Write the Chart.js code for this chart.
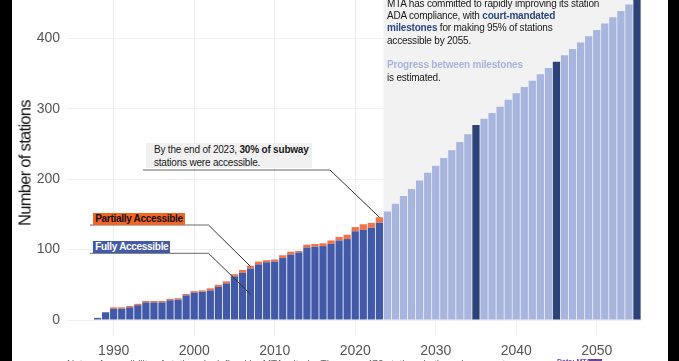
<!DOCTYPE html>
<html><head><meta charset="utf-8">
<script src="https://cdn.jsdelivr.net/npm/chart.js@4.4.1/dist/chart.umd.min.js"></script>
<style>
html,body{margin:0;padding:0;background:#000;}
#frame{position:relative;width:679px;height:361px;overflow:hidden;background:#000;font-family:'Liberation Sans',Arial,sans-serif;}
#panel{position:absolute;left:12px;top:0;width:656px;height:361px;background:#fff;}
#wrap{position:absolute;left:0;top:-40px;width:679px;height:401px;}
.ann{position:absolute;font-size:10px;line-height:12.3px;color:#1a1a1a;letter-spacing:-0.2px;white-space:nowrap;}
.court{color:#2d4789;font-weight:bold;}
.prog{color:#a7b5df;font-weight:bold;}
#note2023{left:145.7px;top:143.3px;width:166px;height:25px;background:#f1f1f1;padding:1px 0 0 8.3px;box-sizing:border-box;}
.lab{position:absolute;font-size:10px;font-weight:bold;letter-spacing:-0.3px;line-height:12.6px;padding-left:2.5px;box-sizing:border-box;white-space:nowrap;}
#labPartial{left:92.7px;top:212.5px;width:92px;height:12.6px;background:#f26522;color:#111;}
#labFull{left:92.7px;top:241px;width:77px;height:12.4px;background:#4559a9;color:#fff;}
#ytitle{position:absolute;left:25px;top:162.5px;transform:translate(-50%,-50%) rotate(-90deg);font-size:16.5px;letter-spacing:-0.7px;color:#111;white-space:nowrap;}
#notes{position:absolute;left:67px;top:359px;font-size:10px;color:#666;white-space:nowrap;}
#logo{position:absolute;left:557px;top:358px;font-size:7px;font-weight:bold;color:#6b3fa0;white-space:nowrap;}
#logoBox{position:absolute;left:589px;top:358.5px;width:13px;height:5px;background:#6b3fa0;}
</style></head>
<body>
<div id="frame">
  <div id="panel"></div>
  <div id="wrap"><canvas id="c" width="679" height="401"></canvas></div>
  <div id="ytitle">Number of stations</div>
  <div class="ann" id="rightNote" style="left:387px;top:-2.2px;">MTA has committed to rapidly improving its station<br>ADA compliance, with <span class="court">court-mandated</span><br><span class="court">milestones</span> for making 95% of stations<br>accessible by 2055.<br><br><span class="prog">Progress between milestones</span><br>is estimated.</div>
  <div class="ann" id="note2023">By the end of 2023, <b>30% of subway</b><br>stations were accessible.</div>
  <div class="lab" id="labPartial">Partially Accessible</div>
  <div class="lab" id="labFull">Fully Accessible</div>
  <div id="notes">Notes: Accessibility of stations is defined by MTA criteria. There are 472 stations in the subway system.</div>
  <div id="logo">Data: MTA</div>
  <div id="logoBox"></div>
</div>
<script>
// ---- data ----
const historyYears = [1988,1989,1990,1991,1992,1993,1994,1995,1996,1997,1998,1999,2000,2001,2002,2003,2004,2005,2006,2007,2008,2009,2010,2011,2012,2013,2014,2015,2016,2017,2018,2019,2020,2021,2022,2023];
const fullyAccessible = [3,11,16,16,18,21,25,25,25,28,29,35,39,40,42,47,52,62,67,73,79,82,83,88,93,96,103,104,105,108,113,115,126,128,131,138];
const partiallyAccessible = [0,0,2,2,2,2,2,2,2,2,2,2,2,2,3,3,3,3,4,4,4,3,3,4,4,2,4,4,4,5,5,6,6,8,7,8];
const projectedYears = [2024,2025,2026,2027,2028,2029,2030,2031,2032,2033,2034,2035,2036,2037,2038,2039,2040,2041,2042,2043,2044,2045,2046,2047,2048,2049,2050,2051,2052,2053,2054,2055];
const projectedValues = [154,165,176,186,198,209,219,230,241,253,264,277,286,294,303,313,322,331,340,349,358,367,376,385,394,403,412,421,430,439,448,457];
const milestoneYears = [2035,2045,2055];
const xTickYears = [1990,2000,2010,2020,2030,2040,2050];
const yTickValues = [0,100,200,300,400];

// ---- build datasets ----
const fullPts = historyYears.map((yr,i)=>({x:yr,y:fullyAccessible[i]}));
const partPts = historyYears.map((yr,i)=>({x:yr,y:partiallyAccessible[i]}));
const estPts = [], milePts = [];
projectedYears.forEach((yr,i)=>{
  (milestoneYears.includes(yr) ? milePts : estPts).push({x:yr,y:projectedValues[i]});
});

const OFF = 40; // canvas is shifted up by this many pixels
const leaders = [
  {h:[[143,170],[330,170]], year:2023, value:fullyAccessible[35]+partiallyAccessible[35]},
  {h:[[90,225],[208.5,225]], year:2007, value:fullyAccessible[19]+partiallyAccessible[19]-1},
  {h:[[90,253.3],[208.5,253.3]], year:2007, value:fullyAccessible[19]/2}
];

const overlay = {
  id:'overlay',
  beforeDatasetsDraw(chart){
    const {ctx, chartArea:a, scales:{x,y}} = chart;
    const x0 = x.getPixelForValue(projectedYears[0]-0.5);
    ctx.save();
    ctx.fillStyle = '#f2f2f2';
    ctx.fillRect(x0, 0, a.right - x0, y.getPixelForValue(0));
    ctx.restore();
  },
  afterDatasetsDraw(chart){
    const {ctx, scales:{x,y}} = chart;
    ctx.save();
    ctx.lineWidth = 1;
    leaders.forEach(l=>{
      ctx.strokeStyle = '#666';
      ctx.beginPath();
      ctx.moveTo(l.h[0][0], l.h[0][1]+OFF);
      ctx.lineTo(l.h[1][0], l.h[1][1]+OFF);
      ctx.stroke();
      ctx.strokeStyle = '#333';
      ctx.beginPath();
      ctx.moveTo(l.h[1][0], l.h[1][1]+OFF);
      ctx.lineTo(x.getPixelForValue(l.year), y.getPixelForValue(l.value));
      ctx.stroke();
    });
    ctx.restore();
  }
};

const tickFont = {family:"'Liberation Sans', Arial, sans-serif", size:14};
new Chart(document.getElementById('c'), {
  type:'bar',
  data:{datasets:[
    {label:'Fully Accessible', data:fullPts, backgroundColor:'#4259a8'},
    {label:'Partially Accessible', data:partPts, backgroundColor:'#f0744a'},
    {label:'Estimated', data:estPts, backgroundColor:'#a7b5df'},
    {label:'Milestone', data:milePts, backgroundColor:'#2d4276'}
  ]},
  options:{
    responsive:false, animation:false, devicePixelRatio:1, events:[],
    layout:{padding:{left:12,right:38,top:8,bottom:0}},
    datasets:{bar:{barPercentage:0.9, categoryPercentage:1.0, borderWidth:0}},
    plugins:{legend:{display:false}, tooltip:{enabled:false}},
    scales:{
      x:{type:'linear', stacked:true, min:1984.2, max:2055.5, offset:false,
         grid:{color:'#ececec', offset:false, drawTicks:true, tickLength:15},
         border:{display:false},
         ticks:{font:tickFont, color:'#555', padding:8, maxRotation:0, callback:v=>String(v)},
         afterBuildTicks(s){ s.ticks = xTickYears.map(v=>({value:v})); },
         afterFit(s){ s.height = 41; s.paddingLeft = 0; s.paddingRight = 0; }},
      y:{stacked:true, min:0, max:500,
         grid:{color:'#efefef', drawTicks:false},
         border:{display:false},
         ticks:{font:tickFont, color:'#555', padding:7, callback:v=>String(v)},
         afterBuildTicks(s){ s.ticks = yTickValues.map(v=>({value:v})); },
         afterFit(s){ s.width = 55; s.paddingTop = 0; s.paddingBottom = 0; }}
    }
  },
  plugins:[overlay]
});
</script>
</body></html>
